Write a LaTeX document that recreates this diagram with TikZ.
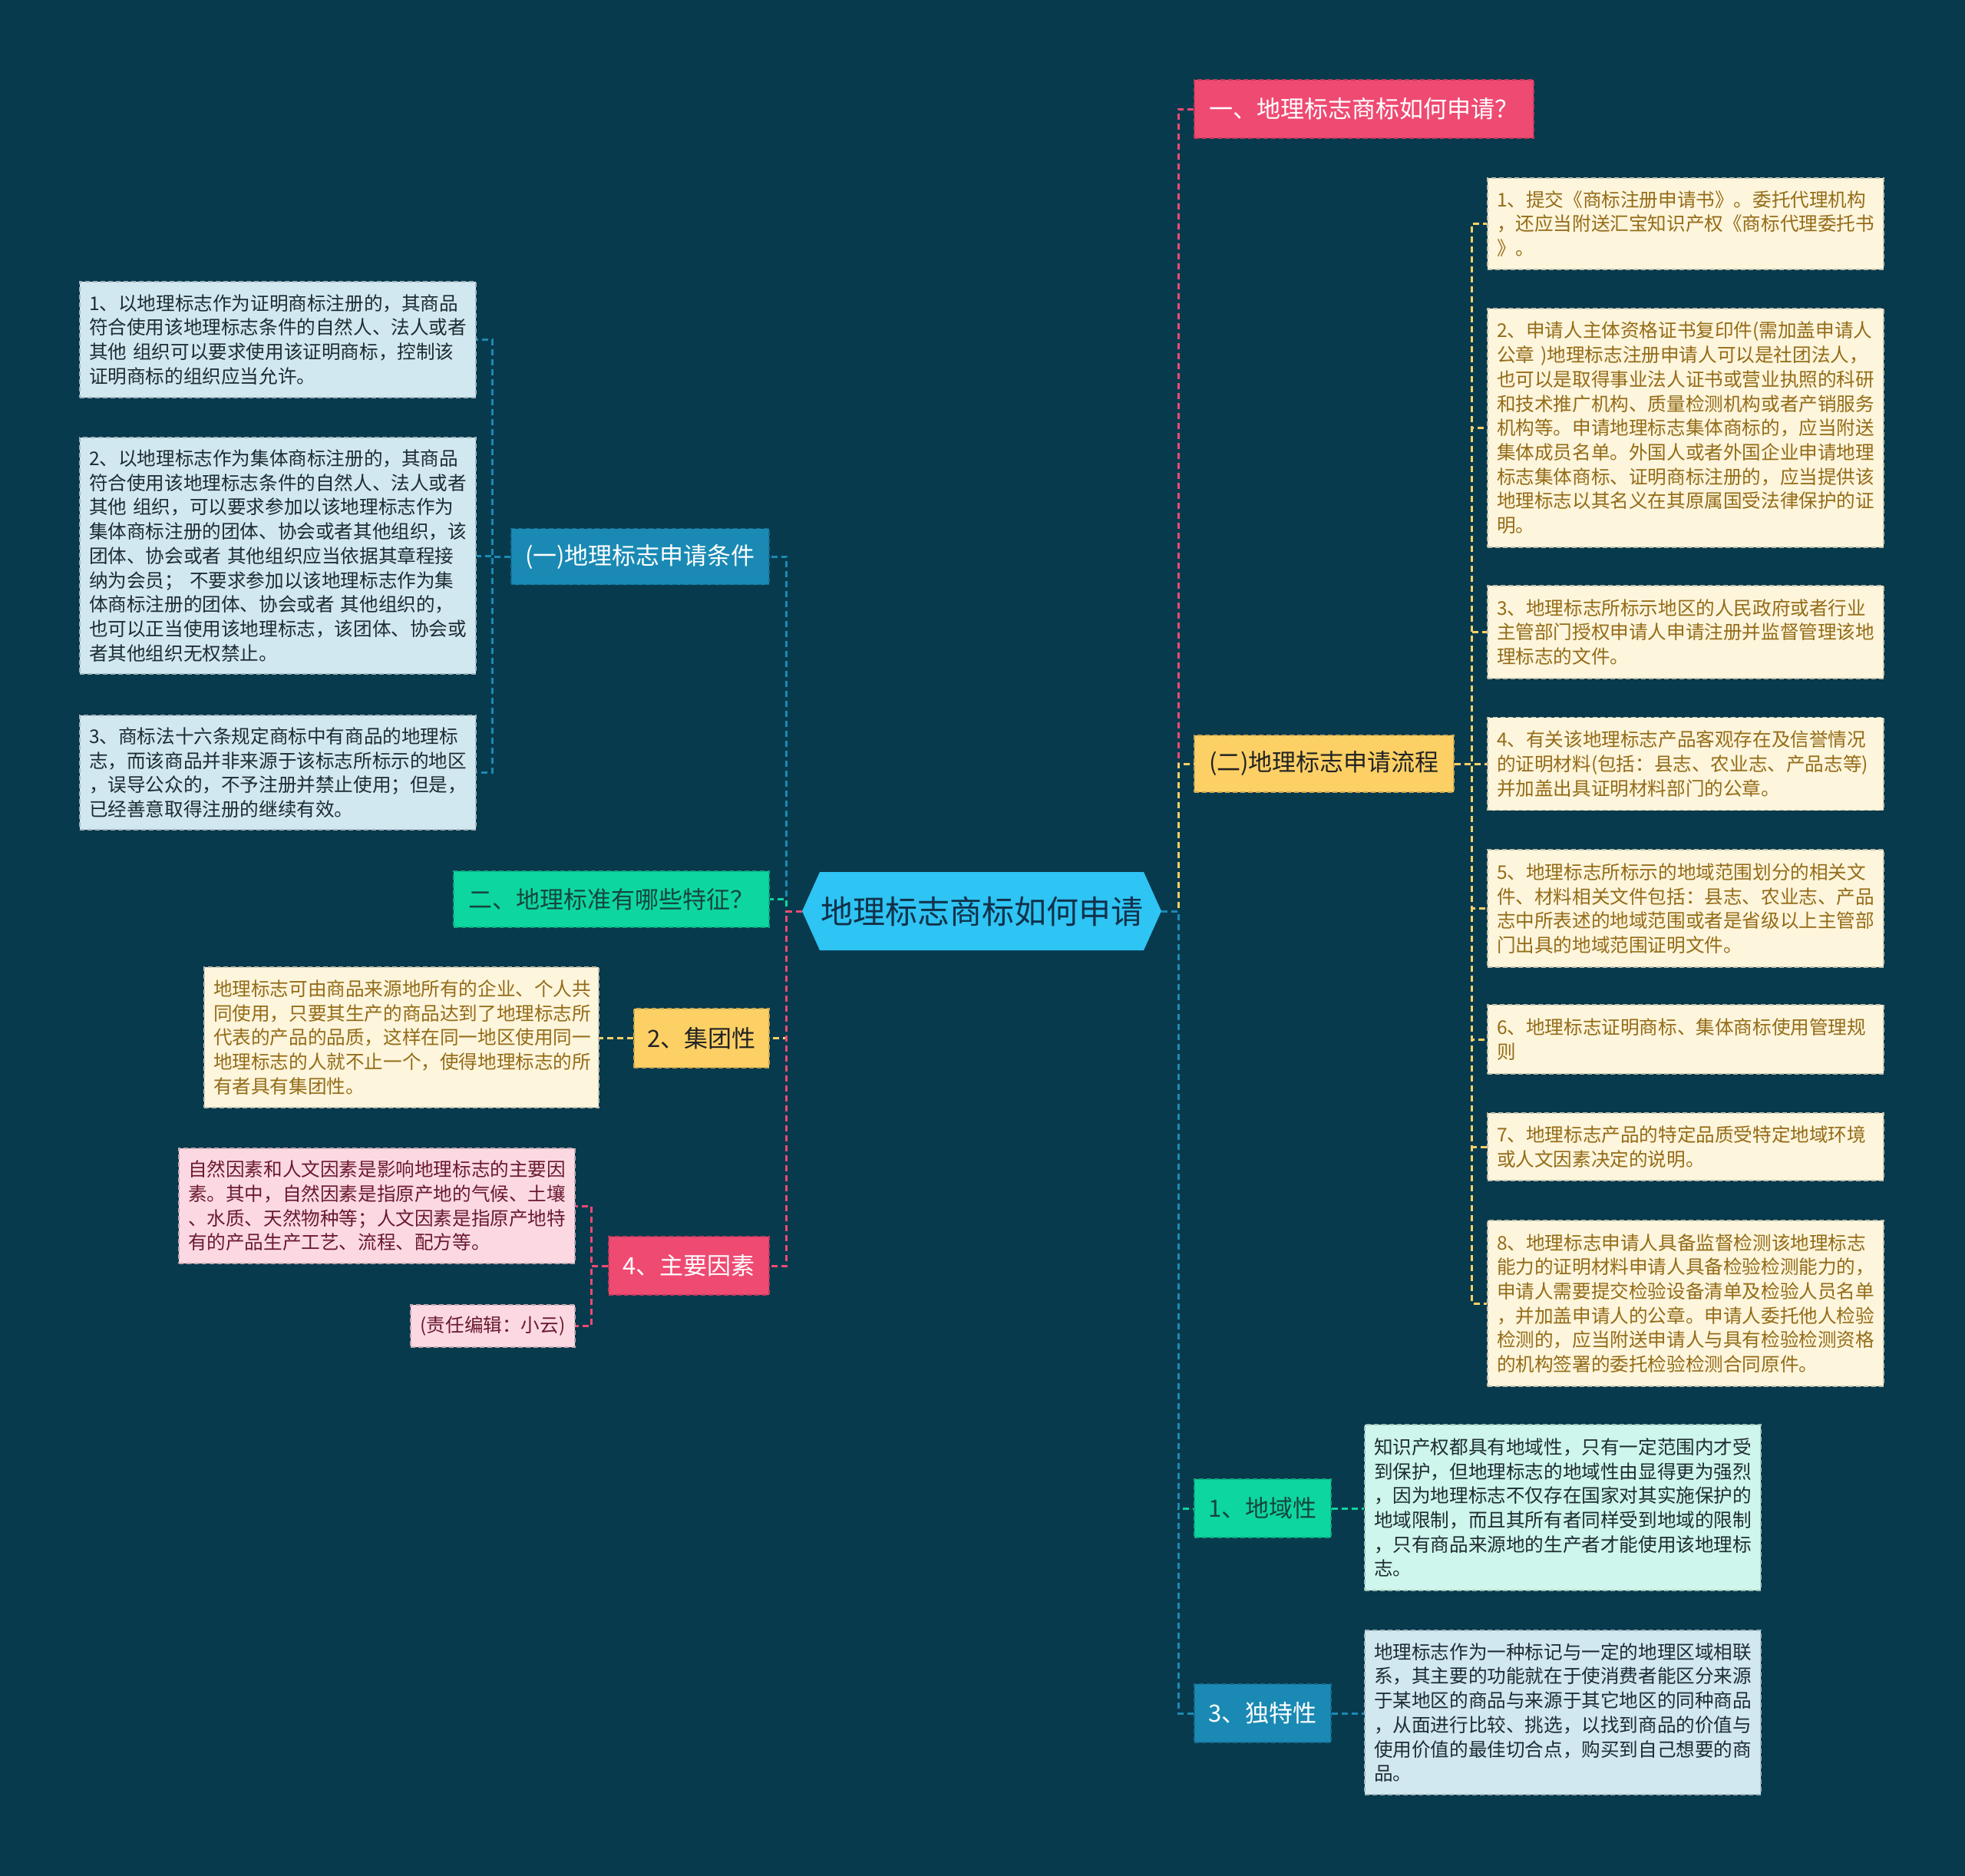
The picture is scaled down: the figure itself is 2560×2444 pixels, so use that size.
\documentclass[tikz,border=0pt]{standalone}
\usepackage{fontspec}
\setmainfont{Noto Sans CJK SC}
\usetikzlibrary{calc}
\definecolor{bg}{HTML}{083A4D}
\definecolor{cfill}{HTML}{2EC4F4}
\definecolor{ctext}{HTML}{10324A}
\definecolor{cred}{HTML}{EF4A72}
\definecolor{cyellow}{HTML}{FCD065}
\definecolor{cgreen}{HTML}{0ED6A0}
\definecolor{cblue}{HTML}{1A8AB4}
\definecolor{lcream}{HTML}{FDF5DC}
\definecolor{lblue}{HTML}{D1E8F0}
\definecolor{lgreen}{HTML}{CEF6EC}
\definecolor{lpink}{HTML}{FCD9E2}
\definecolor{tdark}{HTML}{222222}
\definecolor{tgreen}{HTML}{14463C}
\definecolor{tgold}{HTML}{946C18}
\definecolor{tleaf}{HTML}{1E2C33}
\definecolor{tmaroon}{HTML}{6A1A30}
\tikzset{
  mnode/.style 2 args={fill=#1, draw=#1!80!black, dash pattern=on 6pt off 4pt,
    line width=1.5pt, text=#2, inner sep=0pt, font=\fontsize{31}{37}\selectfont},
  leaf/.style 2 args={fill=#1, draw=#1!78!black, dash pattern=on 6pt off 4pt,
    line width=1.5pt, text=#2, text width=492pt, align=left, inner xsep=12pt,
    inner ysep=0pt, font=\fontsize{24.6}{31.7}\selectfont},
  conn/.style={line width=3pt, dash pattern=on 8pt off 5pt},
}
\begin{document}
\begin{tikzpicture}[x=1pt,y=-1pt]
\useasboundingbox (0,0) rectangle (2560,2444);
\fill[bg] (0,0) rectangle (2560,2444);

% central hexagon
\fill[cfill] (1045,1187) -- (1068,1136) -- (1490,1136) -- (1513,1187) -- (1490,1238) -- (1068,1238) -- cycle;
\node[minimum width=468pt, minimum height=102pt, inner sep=0pt, text=ctext,
  font=\fontsize{42}{50}\selectfont] (c) at (1279,1187) {地理标志商标如何申请};

% right main nodes
\node[mnode={cred}{white}, minimum width=442pt, minimum height=76pt] (r1) at (1777,142) {一、地理标志商标如何申请？};
\node[mnode={cyellow}{tdark}, minimum width=338pt, minimum height=74pt] (r2) at (1725,995) {(二)地理标志申请流程};
\node[mnode={cgreen}{tgreen}, minimum width=178pt, minimum height=76pt] (r3) at (1645,1965) {1、地域性};
\node[mnode={cblue}{white}, minimum width=178pt, minimum height=76pt] (r4) at (1645,2232) {3、独特性};

% left main nodes
\node[mnode={cblue}{white}, minimum width=336pt, minimum height=73pt] (l1) at (834,725) {(一)地理标志申请条件};
\node[mnode={cgreen}{tgreen}, minimum width=411pt, minimum height=73pt] (l2) at (796.5,1171.5) {二、地理标准有哪些特征？};
\node[mnode={cyellow}{tdark}, minimum width=176pt, minimum height=77pt] (l3) at (914,1352.5) {2、集团性};
\node[mnode={cred}{white}, minimum width=209pt, minimum height=76pt] (l4) at (897.5,1649) {4、主要因素};

% leaves of (一)
\node[leaf={lblue}{tleaf}, minimum height=151pt] (a1) at (362,442.5) {1、以地理标志作为证明商标注册的，其商品\\符合使用该地理标志条件的自然人、法人或者\\其他 组织可以要求使用该证明商标，控制该\\证明商标的组织应当允许。};
\node[leaf={lblue}{tleaf}, minimum height=308pt] (a2) at (362,724) {2、以地理标志作为集体商标注册的，其商品\\符合使用该地理标志条件的自然人、法人或者\\其他 组织，可以要求参加以该地理标志作为\\集体商标注册的团体、协会或者其他组织，该\\团体、协会或者 其他组织应当依据其章程接\\纳为会员； 不要求参加以该地理标志作为集\\体商标注册的团体、协会或者 其他组织的，\\也可以正当使用该地理标志，该团体、协会或\\者其他组织无权禁止。};
\node[leaf={lblue}{tleaf}, minimum height=149pt] (a3) at (362,1006.5) {3、商标法十六条规定商标中有商品的地理标\\志，而该商品并非来源于该标志所标示的地区\\，误导公众的，不予注册并禁止使用；但是，\\已经善意取得注册的继续有效。};

% leaf of 2、集团性
\node[leaf={lcream}{tgold}, text width=490pt, minimum height=183pt] (g1) at (523,1351.5) {地理标志可由商品来源地所有的企业、个人共\\同使用，只要其生产的商品达到了地理标志所\\代表的产品的品质，这样在同一地区使用同一\\地理标志的人就不止一个，使得地理标志的所\\有者具有集团性。};

% leaves of 4、主要因素
\node[leaf={lpink}{tmaroon}, minimum height=150pt] (p1) at (491,1571) {自然因素和人文因素是影响地理标志的主要因\\素。其中，自然因素是指原产地的气候、土壤\\、水质、天然物种等；人文因素是指原产地特\\有的产品生产工艺、流程、配方等。};
\node[leaf={lpink}{tmaroon}, text width=190pt, align=center, minimum height=55pt] (p2) at (642,1727.5) {(责任编辑：小云)};

% leaves of (二)
\node[leaf={lcream}{tgold}, minimum height=119pt] (b1) at (2196,291.5) {1、提交《商标注册申请书》。委托代理机构\\，还应当附送汇宝知识产权《商标代理委托书\\》。};
\node[leaf={lcream}{tgold}, minimum height=311pt] (b2) at (2196,557.5) {2、申请人主体资格证书复印件(需加盖申请人\\公章 )地理标志注册申请人可以是社团法人，\\也可以是取得事业法人证书或营业执照的科研\\和技术推广机构、质量检测机构或者产销服务\\机构等。申请地理标志集体商标的，应当附送\\集体成员名单。外国人或者外国企业申请地理\\标志集体商标、证明商标注册的，应当提供该\\地理标志以其名义在其原属国受法律保护的证\\明。};
\node[leaf={lcream}{tgold}, minimum height=121pt] (b3) at (2196,823.5) {3、地理标志所标示地区的人民政府或者行业\\主管部门授权申请人申请注册并监督管理该地\\理标志的文件。};
\node[leaf={lcream}{tgold}, minimum height=121pt] (b4) at (2196,995) {4、有关该地理标志产品客观存在及信誉情况\\的证明材料(包括：县志、农业志、产品志等)\\并加盖出具证明材料部门的公章。};
\node[leaf={lcream}{tgold}, minimum height=153pt] (b5) at (2196,1183.5) {5、地理标志所标示的地域范围划分的相关文\\件、材料相关文件包括：县志、农业志、产品\\志中所表述的地域范围或者是省级以上主管部\\门出具的地域范围证明文件。};
\node[leaf={lcream}{tgold}, minimum height=90pt] (b6) at (2196,1354) {6、地理标志证明商标、集体商标使用管理规\\则};
\node[leaf={lcream}{tgold}, minimum height=88pt] (b7) at (2196,1494) {7、地理标志产品的特定品质受特定地域环境\\或人文因素决定的说明。};
\node[leaf={lcream}{tgold}, minimum height=216pt] (b8) at (2196,1698) {8、地理标志申请人具备监督检测该地理标志\\能力的证明材料申请人具备检验检测能力的，\\申请人需要提交检验设备清单及检验人员名单\\，并加盖申请人的公章。申请人委托他人检验\\检测的，应当附送申请人与具有检验检测资格\\的机构签署的委托检验检测合同原件。};

% leaves of 1、地域性 and 3、独特性
\node[leaf={lgreen}{tleaf}, minimum height=216pt] (d1) at (2036,1964) {知识产权都具有地域性，只有一定范围内才受\\到保护，但地理标志的地域性由显得更为强烈\\，因为地理标志不仅存在国家对其实施保护的\\地域限制，而且其所有者同样受到地域的限制\\，只有商品来源地的生产者才能使用该地理标\\志。};
\node[leaf={lblue}{tleaf}, minimum height=214pt] (d2) at (2036,2231) {地理标志作为一种标记与一定的地理区域相联\\系，其主要的功能就在于使消费者能区分来源\\于某地区的商品与来源于其它地区的同种商品\\，从面进行比较、挑选，以找到商品的价值与\\使用价值的最佳切合点，购买到自己想要的商\\品。};

% connectors: center to right
\draw[conn, cred] (c.east) -- ++(22,0) |- (r1.west);
\draw[conn, cyellow] (c.east) -- ++(22,0) |- (r2.west);
\draw[conn, cgreen] (c.east) -- ++(22,0) |- (r3.west);
\draw[conn, cblue] (c.east) -- ++(22,0) |- (r4.west);
% center to left
\draw[conn, cblue] (c.west) -- ++(-20,0) |- (l1.east);
\draw[conn, cgreen] (c.west) -- ++(-20,0) |- (l2.east);
\draw[conn, cyellow] (c.west) -- ++(-20,0) |- (l3.east);
\draw[conn, cred] (c.west) -- ++(-20,0) |- (l4.east);
% (一) children
\draw[conn, cblue] (l1.west) -- ++(-24,0) |- (a1.east);
\draw[conn, cblue] (l1.west) -- ++(-24,0) |- (a2.east);
\draw[conn, cblue] (l1.west) -- ++(-24,0) |- (a3.east);
% 集团性 child
\draw[conn, cyellow] (l3.west) -- (l3.west -| g1.east);
% 主要因素 children
\draw[conn, cred] (l4.west) -- ++(-22,0) |- (p1.east);
\draw[conn, cred] (l4.west) -- ++(-22,0) |- (p2.east);
% (二) children
\foreach \b in {b1,b2,b3,b4,b5,b6,b7,b8}
  \draw[conn, cyellow] (r2.east) -- ++(23,0) |- (\b.west);
% 地域性 / 独特性 children
\draw[conn, cgreen] (r3.east) -- (r3.east -| d1.west);
\draw[conn, cblue] (r4.east) -- (r4.east -| d2.west);
\end{tikzpicture}
\end{document}
